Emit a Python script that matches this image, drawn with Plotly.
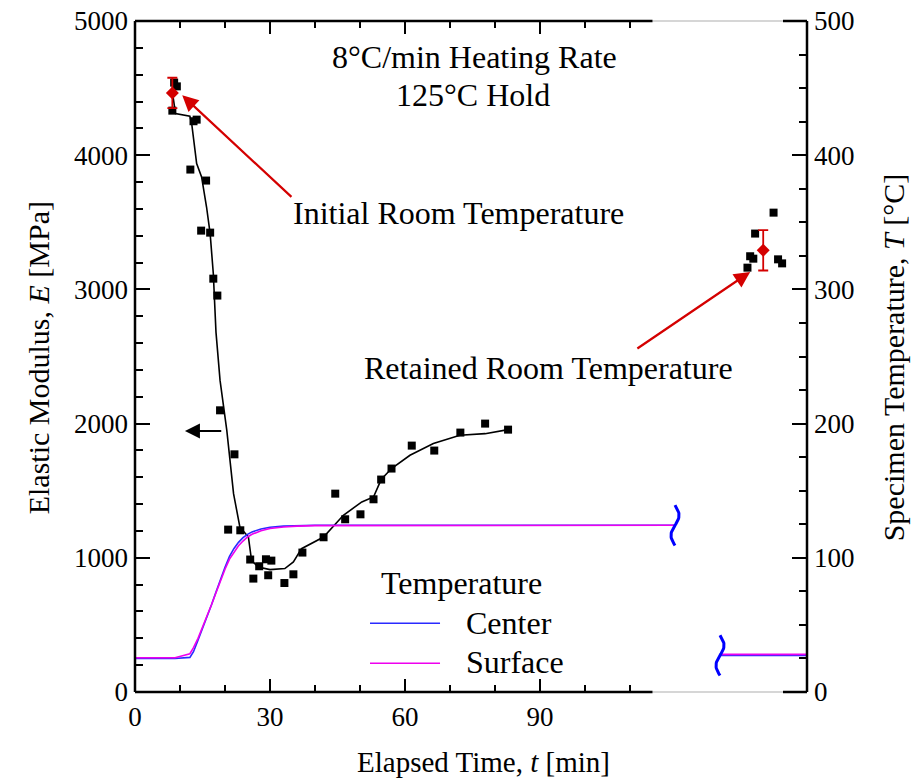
import numpy as np
import plotly.graph_objects as go

# ---------------- data ----------------
# Elastic modulus measurements during heating / hold [min, MPa]
E_t = [8.3, 8.7, 9.3, 12.3, 13.0, 13.7, 14.7, 15.8, 16.7, 17.4, 18.3, 18.9, 20.7, 22.1,
       23.4, 25.6, 26.3, 27.6, 29.1, 29.6, 30.3, 33.2, 35.2, 37.2, 41.9, 44.5, 46.7,
       50.1, 53.0, 54.7, 57.0, 61.5, 66.5, 72.3, 77.8, 82.9]
E_v = [4332, 4541, 4513, 3893, 4253, 4265, 3438, 3811, 3423, 3080, 2954, 2099, 1210, 1771,
       1205, 987, 845, 937, 989, 870, 979, 812, 877, 1039, 1153, 1478, 1287,
       1324, 1436, 1583, 1665, 1836, 1799, 1933, 2000, 1955]

# Retained room-temperature measurements (after break)
R_t = [136.1, 136.7, 137.4, 137.8, 141.9, 142.9, 143.8]
R_v = [3162, 3247, 3229, 3416, 3572, 3224, 3194]

# Fitted modulus trend line
F_t = [8.3, 9.0, 12.2, 12.6, 13.7, 14.8, 15.9, 16.7, 17.4, 18.0, 18.9, 20.4, 21.9, 23.3,
       25.2, 25.9, 27.4, 30.0, 33.3, 35.2, 37.0, 41.9, 46.3, 50.4, 53.0, 54.7, 57.0,
       61.1, 66.3, 72.2, 77.8, 82.9]
F_v = [4471, 4310, 4290, 4235, 3937, 3838, 3614, 3416, 3118, 2680, 2322, 1950, 1478, 1230,
       1155, 981, 931, 912, 920, 969, 1068, 1155, 1317, 1416, 1453, 1583, 1665,
       1764, 1851, 1913, 1925, 1955]

# Mean room-temperature values with error bars
init_t, init_E, init_err = [8.3], [4464], [113]
ret_t, ret_E, ret_err = [139.6], [3291], [150]

# Specimen temperature [min, degC]
T_t = [0, 8.9, 12.2, 13, 14, 15, 16, 17, 18, 19, 20, 21, 22, 23, 24, 25, 26, 28, 30, 33, 36, 40, 120]
T_center = [25, 25, 25.8, 30, 38.5, 47, 56, 65, 74.5, 84, 93, 101, 107, 111.5, 115, 117.5,
            119.3, 121.5, 122.8, 123.6, 124, 124.2, 124.2]
T_surface = [25.5, 25.5, 28.5, 33, 40, 48, 56.5, 65, 74, 83, 91.5, 99, 104.5, 109, 112.5,
             115.5, 117.5, 120.2, 121.8, 123, 123.6, 124, 124.2]
Tr_t = [130, 150]
Tr_center = [27.3, 27.3]
Tr_surface = [28.0, 28.0]

x_major = [0, 30, 60, 90]
x_minor = [10, 20, 40, 50, 70, 80, 100, 110]
x_break = [115, 144]
x_max = 149.33

FONT = "Liberation Serif"
RED = "#d40000"
BLUE = "#2a2aff"
MAG = "#ee00ee"

fig = go.Figure()

# temperature (secondary axis)
for xs, yc, ys in [(T_t, T_center, T_surface), (Tr_t, Tr_center, Tr_surface)]:
    fig.add_trace(go.Scatter(x=xs, y=yc, mode="lines", line=dict(color=BLUE, width=1.6),
                             yaxis="y2", showlegend=False))
    fig.add_trace(go.Scatter(x=xs, y=ys, mode="lines", line=dict(color=MAG, width=1.6),
                             yaxis="y2", showlegend=False))

# break squiggles at the ends of temperature segments
s = np.linspace(0, 1, 40)
for (xc, yc) in [(T_t[-1], T_center[-1]), (Tr_t[0], Tr_center[0])]:
    fig.add_trace(go.Scatter(x=xc + 0.9 * np.sin(2 * np.pi * s), y=yc + 15 - 30 * s,
                             mode="lines", line=dict(color="blue", width=3),
                             yaxis="y2", showlegend=False))

# modulus trend line and points
fig.add_trace(go.Scatter(x=F_t, y=F_v, mode="lines", line=dict(color="black", width=1.6),
                         showlegend=False))
fig.add_trace(go.Scatter(x=E_t + R_t, y=E_v + R_v, mode="markers",
                         marker=dict(symbol="square", size=8, color="black"), showlegend=False))

for tt, ee, er in [(init_t, init_E, init_err), (ret_t, ret_E, ret_err)]:
    fig.add_trace(go.Scatter(x=tt, y=ee, mode="markers",
                             marker=dict(symbol="diamond", size=10, color=RED),
                             error_y=dict(type="data", array=er, color=RED, thickness=1.8, width=5),
                             showlegend=False))

# invisible trace for the top mirrored axis
fig.add_trace(go.Scatter(x=[0], y=[0], xaxis="x2", mode="markers",
                         marker=dict(opacity=0), showlegend=False, hoverinfo="skip"))

tickfont = dict(family=FONT, size=27, color="black")
xcommon = dict(range=[0, x_max], showgrid=False, zeroline=False, showline=False, automargin=False,
               ticks="inside", ticklen=13, tickwidth=2, tickcolor="black",
               tickvals=x_major,
               minor=dict(tickvals=x_minor, ticks="inside", ticklen=7, tickwidth=2, tickcolor="black"))

fig.update_layout(
    width=916, height=784,
    margin=dict(l=135, r=109, t=21, b=92, autoexpand=False),
    plot_bgcolor="white", paper_bgcolor="white",
    xaxis=dict(**xcommon, ticktext=[str(v) for v in x_major], tickfont=tickfont,
               ticklabelstandoff=6),
    xaxis2=dict(**xcommon, overlaying="x", side="top", showticklabels=False),
    yaxis=dict(range=[0, 5000], showgrid=False, zeroline=False, showline=False, automargin=False,
               ticks="inside", ticklen=15, tickwidth=2, tickcolor="black", dtick=1000,
               minor=dict(dtick=200, ticks="inside", ticklen=8, tickwidth=2, tickcolor="black"),
               tickfont=tickfont, ticklabelstandoff=6),
    yaxis2=dict(range=[0, 500], overlaying="y", side="right", showgrid=False, zeroline=False,
                showline=False, automargin=False, ticks="inside", ticklen=15, tickwidth=2,
                tickcolor="black", dtick=100,
                minor=dict(dtick=25, ticks="inside", ticklen=8, tickwidth=2, tickcolor="black"),
                tickfont=tickfont, ticklabelstandoff=6),
)

# axis frame with break
lw = 2.5
shapes = [
    dict(type="line", xref="paper", yref="paper", x0=0, x1=0, y0=0, y1=1, line=dict(color="black", width=lw)),
    dict(type="line", xref="paper", yref="paper", x0=1, x1=1, y0=0, y1=1, line=dict(color="black", width=lw)),
]
for yv in [0, 1]:
    shapes.append(dict(type="line", xref="x", yref="paper", x0=x_break[0], x1=x_break[1], y0=yv, y1=yv,
                       line=dict(color="#c8c8c8", width=1.5)))
    shapes.append(dict(type="line", xref="x", yref="paper", x0=0, x1=x_break[0], y0=yv, y1=yv,
                       line=dict(color="black", width=lw)))
    shapes.append(dict(type="line", xref="x", yref="paper", x0=x_break[1], x1=x_max, y0=yv, y1=yv,
                       line=dict(color="black", width=lw)))
# legend sample lines
shapes.append(dict(type="line", xref="paper", yref="paper", x0=0.3497, x1=0.4539, y0=0.1024, y1=0.1024,
                   line=dict(color=BLUE, width=1.4)))
shapes.append(dict(type="line", xref="paper", yref="paper", x0=0.3497, x1=0.4539, y0=0.0428, y1=0.0428,
                   line=dict(color=MAG, width=1.4)))
fig.update_layout(shapes=shapes)

af = dict(family=FONT, size=32, color="black")
titlef = dict(family=FONT, size=30, color="black")
xtitlef = dict(family=FONT, size=29, color="black")
ann = [
    dict(text="8°C/min Heating Rate", x=0.5045, y=0.9457, font=af),
    dict(text="125°C Hold", x=0.503, y=0.8893, font=af),
    dict(text="Initial Room Temperature", x=0.4807, y=0.7134, font=af),
    dict(text="Retained Room Temperature", x=0.6146, y=0.4824, font=af),
    dict(text="Temperature", x=0.4866, y=0.162, font=af),
    dict(text="Center", x=0.4896, y=0.1024, xanchor="left", font=af),
    dict(text="Surface", x=0.4896, y=0.0443, xanchor="left", font=af),
    dict(text="Elastic Modulus, <i>E</i> [MPa]", x=-0.1443, y=0.4973, textangle=-90, font=titlef),
    dict(text="Specimen Temperature, <i>T</i> [°C]", x=1.128, y=0.4988, textangle=-90, font=titlef),
    dict(text="Elapsed Time, <i>t</i> [min]", x=0.5179, y=-0.1048, font=xtitlef),
]
for a in ann:
    fig.add_annotation(xref="paper", yref="paper", showarrow=False,
                       xanchor=a.get("xanchor", "center"), yanchor="middle",
                       **{k: v for k, v in a.items() if k != "xanchor"})

# arrows
fig.add_annotation(x=10.5, y=4446, ax=35.1, ay=3679, xref="x", yref="y", axref="x", ayref="y",
                   text="", showarrow=True, arrowhead=2, arrowsize=1.45, arrowwidth=2.2,
                   arrowcolor=RED, standoff=0)
fig.add_annotation(x=136.7, y=3130, ax=111.3, ay=2552, xref="x", yref="y", axref="x", ayref="y",
                   text="", showarrow=True, arrowhead=2, arrowsize=1.45, arrowwidth=2.2,
                   arrowcolor=RED, standoff=0)
fig.add_annotation(x=11.1, y=1945, ax=19.5, ay=1945, xref="x", yref="y", axref="x", ayref="y",
                   text="", showarrow=True, arrowhead=2, arrowsize=1.5, arrowwidth=2,
                   arrowcolor="black", standoff=0)

fig.write_html("out.html", config={"displayModeBar": False},
               post_script="document.body.style.margin='0';document.body.style.overflow='hidden';")
